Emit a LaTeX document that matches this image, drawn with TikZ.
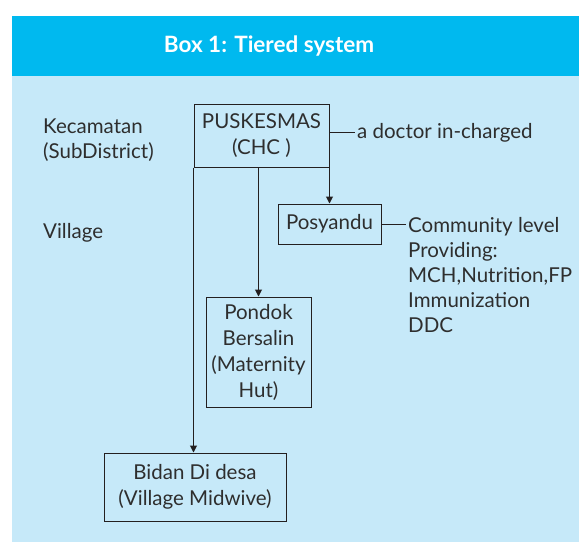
\documentclass[tikz,border=0pt]{standalone}
\usepackage{fontspec}
\setmainfont{Lato}
\usepackage{xcolor}
\usepackage{tikz}
\usetikzlibrary{arrows.meta}

\definecolor{headblue}{HTML}{00B9EF}
\definecolor{panelblue}{HTML}{C6E9F9}
\definecolor{inkgray}{HTML}{231F20}
\definecolor{textgray}{HTML}{2E2E2E}

\begin{document}
\begin{tikzpicture}[x=1pt,y=-1pt,
  tierbox/.style={draw=inkgray, line width=1pt, align=center, inner sep=0pt,
    text=textgray, font=\fontsize{20.5}{26}\selectfont},
  notetext/.style={align=left, inner sep=2pt, text=textgray,
    font=\fontsize{20.5}{25}\selectfont},
  link/.style={draw=inkgray, line width=1pt},
  arrowlink/.style={link, -{Triangle[length=7pt,width=7pt]}}]
\useasboundingbox (0,0) rectangle (579,543);
% panel and header
\fill[panelblue] (12,76) rectangle (579,542);
\fill[headblue] (12,16) rectangle (579,76);
\node[text=white, font=\fontsize{22.5}{26}\selectfont\bfseries] (title) at (269,46) {Box 1: Tiered system};

% levels
\node[notetext, anchor=north west] (kecamatan) at (41,117) {Kecamatan\\(SubDistrict)};
\node[notetext, anchor=west] (village) at (41,233) {Village};

% boxes
\node[tierbox, minimum width=135pt, minimum height=62pt] (puskesmas) at (261.5,136) {PUSKESMAS\\(CHC )};
\node[tierbox, minimum width=103pt, minimum height=40pt] (posyandu) at (329.5,224) {Posyandu};
\node[tierbox, minimum width=105pt, minimum height=110pt] (pondok) at (258.5,352) {Pondok\\Bersalin\\(Maternity\\Hut)};
\node[tierbox, minimum width=182pt, minimum height=68pt] (bidan) at (195,487) {Bidan Di desa\\(Village Midwive)};

% notes
\node[notetext, anchor=west] (doctor) at (355,133) {a doctor in-charged};
\node[notetext, anchor=north west] (community) at (406,215) {Community level\\Providing:\\MCH,Nutrition,FP\\Immunization\\DDC};

% connectors
\draw[link] (doctor.west -| puskesmas.east) -- (doctor.west);
\draw[link] (posyandu.east) -- (posyandu.east -| community.west);
\draw[arrowlink] (puskesmas.south east) -- (posyandu.north);
\draw[arrowlink] (pondok.north |- puskesmas.south) -- (pondok.north);
\draw[arrowlink] (puskesmas.south west) -- (puskesmas.south west |- bidan.north);
\end{tikzpicture}
\end{document}
